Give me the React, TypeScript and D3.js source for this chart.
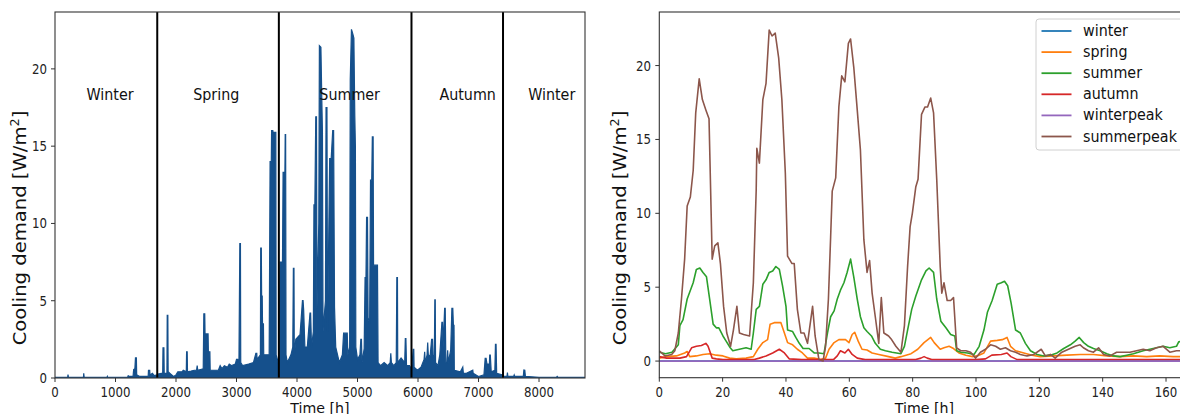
import React from 'react';
import * as d3 from 'd3';

// ---------- data: annual hourly cooling demand (read as envelope points) ----------
const annualSeries: [number, number][] = [
  [0, 0.05], [210, 0.05], [215, 0.22], [222, 0.05], [470, 0.05], [475, 0.3], [482, 0.05],
  [860, 0.05], [865, 0.1], [870, 0.05], [1200, 0.05], [1210, 0.15], [1225, 0.1], [1290, 0.1],
  [1300, 0.55], [1320, 0.6], [1330, 1.3], [1345, 1.3], [1350, 0.2], [1400, 0.1], [1540, 0.1],
  [1545, 0.5], [1565, 0.5], [1570, 0.2], [1610, 0.3], [1640, 0.15], [1690, 0.2],
  [1700, 0.25], [1760, 0.3], [1780, 0.3], [1785, 1.95], [1800, 1.95], [1805, 0.3], [1850, 0.3],
  [1855, 4.05], [1865, 4.05], [1870, 0.4], [1900, 0.3], [1960, 0.1], [2000, 0.2], [2030, 0.4],
  [2100, 0.4], [2120, 0.5], [2170, 0.4], [2175, 1.7], [2185, 1.7], [2190, 0.4], [2250, 0.45],
  [2300, 0.5], [2340, 0.5], [2350, 0.8], [2360, 0.5], [2450, 0.6], [2460, 4.15], [2475, 4.15],
  [2480, 2.85], [2530, 2.85], [2535, 1.7], [2560, 1.7], [2565, 0.5], [2650, 0.5], [2700, 0.5],
  [2730, 0.8], [2760, 0.6], [2800, 0.8], [2850, 0.7], [2880, 0.9], [2920, 0.8], [2980, 0.9],
  [3000, 1.2], [3020, 1.2], [3040, 0.9], [3055, 8.7], [3065, 8.7], [3070, 1.0], [3100, 0.8],
  [3200, 0.9], [3280, 1.0], [3320, 1.6], [3335, 1.6], [3340, 1.2], [3395, 1.5], [3400, 8.4],
  [3410, 8.4], [3415, 5.3], [3425, 5.3], [3430, 3.5], [3445, 3.5], [3450, 1.5], [3540, 1.5],
  [3555, 14.0], [3575, 14.0], [3580, 16.0], [3600, 16.0], [3605, 15.9], [3612, 15.9], [3615, 1.0],
  [3620, 15.9], [3650, 15.9], [3655, 1.5], [3690, 1.0],
  [3700, 0.8], [3720, 7.5], [3760, 7.5], [3770, 13.3], [3800, 13.3], [3805, 15.75], [3812, 15.75],
  [3818, 1.5], [3840, 1.0], [3900, 1.5], [3930, 2.0], [3940, 7.1], [3950, 7.1], [3955, 1.4],
  [3980, 2.5], [4050, 2.8], [4090, 5.0], [4100, 5.0], [4110, 4.4], [4130, 2.0], [4170, 2.0],
  [4215, 4.2], [4225, 4.2], [4240, 2.0], [4270, 3.0], [4280, 11.2], [4295, 11.2], [4310, 16.9],
  [4322, 16.9], [4330, 4.5], [4360, 10.0], [4370, 21.5], [4395, 21.4], [4410, 18.0], [4420, 16.0],
  [4430, 3.0], [4470, 5.0], [4480, 17.5], [4495, 17.5], [4505, 3.0], [4540, 14.2], [4565, 14.2],
  [4590, 16.0], [4605, 16.0], [4620, 4.6], [4640, 2.0], [4700, 1.0], [4750, 1.5], [4770, 2.9],
  [4800, 2.9], [4830, 2.9], [4840, 1.5], [4870, 2.0], [4880, 19.3], [4900, 22.56], [4920, 22.3],
  [4940, 22.0], [4955, 17.0], [4965, 15.0], [4972, 2.0], [5000, 1.2], [5040, 1.5], [5055, 2.5],
  [5065, 2.5], [5075, 1.0], [5110, 1.9], [5125, 6.5], [5140, 6.5], [5150, 10.4], [5165, 10.4],
  [5175, 3.9], [5200, 3.5], [5215, 12.8], [5235, 12.8], [5245, 15.6], [5258, 15.6], [5265, 7.3],
  [5330, 7.3], [5340, 1.0], [5380, 0.8], [5440, 1.0], [5500, 0.8], [5540, 1.0], [5550, 1.6],
  [5560, 1.0], [5600, 0.8], [5640, 1.0], [5650, 6.5], [5660, 6.5], [5665, 1.0], [5720, 1.3],
  [5780, 1.0], [5790, 2.55], [5800, 2.55], [5810, 0.8], [5860, 0.8], [5890, 0.6],
  [5895, 0.5], [5920, 1.85], [5930, 1.85], [5935, 0.7], [5990, 0.5], [6050, 0.7], [6100, 1.2],
  [6110, 1.7], [6120, 1.0], [6150, 1.5], [6160, 2.3], [6170, 1.5], [6200, 1.4], [6225, 2.5],
  [6240, 2.5], [6250, 1.2], [6270, 1.5], [6278, 5.05], [6285, 5.05], [6290, 1.0], [6330, 0.8],
  [6360, 1.5], [6395, 3.6], [6405, 3.6], [6415, 2.0], [6440, 4.5], [6450, 4.5], [6460, 1.0],
  [6480, 1.0], [6490, 1.8], [6500, 1.0], [6540, 1.8], [6560, 4.5], [6575, 4.5], [6585, 3.4],
  [6595, 3.4], [6600, 0.5], [6700, 0.4], [6740, 0.7], [6750, 0.3], [6800, 0.3], [6905, 0.5],
  [6912, 0.3], [7000, 0.1], [7090, 0.2], [7110, 1.27], [7125, 1.27], [7140, 0.9], [7180, 0.9],
  [7185, 1.48], [7195, 1.48], [7210, 0.4], [7270, 0.5], [7280, 2.18], [7290, 2.18], [7300, 0.3],
  [7400, 0.2],
  [7410, 0.1], [7470, 0.1], [7478, 0.35], [7485, 0.1], [7580, 0.1], [7590, 0.2], [7600, 0.1],
  [7740, 0.1], [7750, 0.52], [7765, 0.5], [7775, 0.1], [8000, 0.05], [8290, 0.05], [8300, 0.1],
  [8310, 0.05], [8759, 0.05],
];

const seasonBounds = [1690, 3700, 5892, 7405];
const seasonNames = ['Winter', 'Spring', 'Summer', 'Autumn', 'Winter'];
const seasonLabelHours = [910, 2665, 4870, 6820, 8210];
const seasonLabelValue = 18.3;

const annualXTicks = [0, 1000, 2000, 3000, 4000, 5000, 6000, 7000, 8000];
const demandTicks = [0, 5, 10, 15, 20];
const weekXTicks = [0, 20, 40, 60, 80, 100, 120, 140, 160];

// ---------- data: typical week per season ----------
const winterWeek: [number, number][] = [[0, 0], [167, 0]];
const winterpeakWeek: [number, number][] = [[0, 0], [167, 0]];

const springWeek: [number, number][] = [
  [0, 0.2], [2.3, 0.3], [5.4, 0.35], [8, 0.55], [8.8, 0.65], [9.6, 0.3], [11.7, 0.35], [13.8, 0.45],
  [15.9, 0.5], [18, 0.4], [20.1, 0.35], [22.2, 0.2], [24.3, 0.15], [27.4, 0.2], [29.7, 0.3],
  [31.1, 0.8], [32.7, 1.25], [34.2, 1.45], [35, 2.5], [36.3, 2.6], [38.4, 2.6], [39.5, 1.9],
  [40.5, 1.25], [42.1, 1.1], [43.6, 0.8], [45.2, 0.55], [46.8, 0.2], [48.9, 0.2], [51, 0.1],
  [52.5, 0.2], [53.6, 0.8], [55.2, 1.25], [56.7, 1.45], [58.8, 1.45], [59.9, 1.25], [60.9, 1.8],
  [61.7, 1.95], [62.8, 1.35], [64, 0.8], [65.6, 0.75], [67.2, 0.55], [69.3, 0.45], [72.4, 0.3],
  [74.5, 0.2], [76.3, 0.3], [79.5, 0.5], [81.6, 0.8], [83.6, 1.25], [85.7, 1.6], [86.8, 1.25],
  [88.7, 0.8], [89.9, 0.9], [91.5, 1.0], [92.9, 0.85], [94.6, 0.55], [96.8, 0.4], [98.9, 0.3],
  [100.4, 0.35], [102.5, 0.55], [104.6, 1.35], [106.7, 1.4], [108.3, 1.45], [109.8, 1.6],
  [110.9, 1.0], [112.5, 0.7], [115.1, 0.55], [117.7, 0.4], [120.3, 0.3], [124.5, 0.35],
  [128.7, 0.4], [132.9, 0.45], [137.1, 0.45], [141.3, 0.35], [145.5, 0.3], [149.7, 0.35],
  [153.9, 0.3], [158, 0.35], [162.2, 0.3], [167, 0.3],
];

const summerWeek: [number, number][] = [
  [0, 0.6], [2, 0.5], [4, 0.6], [6, 1.1], [6.5, 2.4], [7.5, 2.8], [8.8, 4.2], [10.7, 5.3],
  [11.7, 6.2], [12.8, 6.3], [13.8, 6.0], [14.9, 5.7], [15.9, 4.2], [17, 2.5], [18, 2.25],
  [18.8, 2.25], [20.1, 1.7], [21.1, 1.35], [22.4, 0.9], [23.2, 0.7], [25.3, 0.8], [27.4, 0.9],
  [29, 0.8], [29.7, 1.9], [30.6, 3.5], [31.6, 3.7], [32.7, 5.2], [33.7, 5.5], [34.7, 6.0],
  [35.8, 6.1], [36.8, 6.4], [37.9, 6.2], [38.9, 5.1], [40, 3.7], [40.5, 2.1], [42.1, 2.0],
  [43.1, 1.6], [44.2, 1.2], [45.4, 0.85], [47.3, 0.85], [48.9, 0.55], [50.4, 0.55], [52, 0.5],
  [53.1, 1.9], [54.1, 3.0], [55.2, 3.4], [56.2, 4.2], [57.2, 4.8], [58.3, 5.3], [59.3, 6.0],
  [60.4, 6.9], [61.4, 5.7], [62.5, 4.2], [63.5, 3.0], [64.6, 2.25], [65.6, 2.0], [67, 1.7],
  [68.2, 1.2], [69.8, 0.8], [71.4, 0.7], [73.5, 0.6], [76.3, 0.5], [77.4, 1.0], [78.4, 2.1],
  [79.7, 3.5], [81, 4.4], [82.8, 5.5], [84.2, 6.1], [85.2, 6.3], [86.6, 6.0], [87.6, 4.2],
  [88.9, 2.7], [90.5, 2.25], [92, 1.8], [93.3, 1.7], [93.9, 0.7], [95.2, 0.6], [97.3, 0.55],
  [99.4, 0.45], [101, 1.0], [102.5, 2.1], [103.6, 3.3], [105.1, 4.1], [106.7, 5.2], [108, 5.3],
  [109, 5.4], [110, 5.1], [111.1, 3.9], [112.5, 2.1], [114, 1.9], [115.6, 1.2], [117.2, 0.7],
  [119.3, 0.45], [121.4, 0.35], [123.5, 0.4], [125.6, 0.55], [127.7, 0.85], [129.8, 1.1],
  [131.3, 1.35], [132.6, 1.6], [134, 1.25], [135.5, 1.0], [137.1, 0.85], [139.2, 0.7],
  [141.3, 0.5], [143.4, 0.35], [145.5, 0.3], [147.6, 0.4], [149.7, 0.5], [152.8, 0.7],
  [154.9, 0.8], [157, 0.9], [159.1, 1.0], [161.2, 0.9], [163.3, 1.0], [164, 1.3], [167, 1.4],
];

const autumnWeek: [number, number][] = [
  [0, 0.3], [2.3, 0.2], [6.5, 0.2], [8.6, 0.3], [10.2, 0.9], [11.7, 1.0], [13.3, 1.05],
  [14.7, 1.2], [15.4, 1.0], [16.7, 0.2], [18, 0.15], [20.1, 0.1], [25, 0.1], [30, 0.1],
  [31.6, 0.2], [33.7, 0.35], [35.8, 0.55], [37.9, 0.8], [39.5, 0.55], [41, 0.15], [45, 0.1],
  [50, 0.1], [55, 0.1], [56.2, 0.35], [57.2, 0.7], [58.6, 0.55], [59.7, 0.8], [60.9, 0.45],
  [62.5, 0.2], [65, 0.1], [75, 0.1], [81, 0.1], [82.6, 0.2], [83.6, 0.3], [84.6, 0.2],
  [86, 0.1], [100, 0.1], [103, 0.15], [105, 0.4], [108, 0.45], [109.8, 0.55], [111, 0.3],
  [113, 0.1], [130, 0.1], [150, 0.1], [167, 0.1],
];

const summerpeakWeek: [number, number][] = [
  [0, 0.7], [1.8, 0.35], [3.9, 0.45], [4.9, 0.7], [6, 1.9], [7, 4.2], [8, 6.9], [8.8, 10.5],
  [9.8, 11.1], [10.7, 12.9], [11.5, 16.8], [12.6, 19.1], [13.6, 17.7], [14.7, 17.0], [15.7, 16.4],
  [16.7, 6.9], [17.5, 7.8], [18.5, 8.0], [19.3, 6.6], [20.3, 3.7], [21.3, 1.9], [22.5, 1.0],
  [23.4, 2.1], [24.5, 3.7], [25.3, 1.9], [26.6, 1.8], [28.5, 1.7], [29.7, 5.3], [30.6, 11.6],
  [30.8, 14.4], [31.6, 13.4], [32.7, 17.7], [33.7, 18.8], [34.7, 22.4], [35.6, 22.0],
  [36.6, 22.2], [37.7, 20.5], [38.7, 17.7], [39.8, 12.7], [40.5, 7.1], [41.9, 6.6], [42.6, 6.6],
  [43.6, 3.5], [44.7, 1.9], [45.7, 1.9], [46.8, 1.2], [48.4, 3.7], [49.2, 1.7], [50.4, 0.1],
  [51.7, 0], [52.5, 1.0], [53.4, 4.2], [54.1, 8.4], [54.6, 11.5], [55.7, 12.4], [56.7, 17.2],
  [57.6, 19.3], [58.6, 18.9], [59.7, 21.5], [60.4, 21.8], [61.4, 19.9], [62.5, 17.0],
  [63.5, 14.3], [64.6, 8.2], [65.6, 6.0], [66.4, 6.8], [67.2, 4.6], [68.2, 3.0], [69.3, 1.2],
  [70.1, 4.3], [70.9, 1.9], [72.4, 1.7], [73.2, 1.5], [74.7, 1.0], [76.3, 0.6], [77.4, 2.4],
  [78.4, 6.4], [79.2, 9.1], [79.9, 10.0], [81, 11.8], [81.7, 12.3], [82.8, 16.7], [83.9, 17.2],
  [84.7, 17.2], [85.7, 17.8], [86.6, 16.8], [87.6, 12.3], [88.7, 6.4], [89.2, 4.6], [89.9, 5.3],
  [90.9, 4.1], [92, 4.1], [92.9, 4.3], [93.9, 0.9], [95.2, 0.7], [96.8, 0.7], [98.3, 0.6],
  [99.9, 0.2], [101.4, 0.6], [103, 0.8], [104.6, 1.1], [106.2, 1.0], [107.7, 0.8], [109.3, 0.9],
  [110.9, 0.7], [112.5, 0.6], [114, 0.45], [116.1, 0.35], [118.3, 0.45], [120.6, 0.8],
  [121.9, 0.35], [123.5, 0.45], [125, 0.2], [127.1, 0.6], [129.2, 0.8], [131.3, 1.0],
  [132.9, 1.1], [133.9, 0.9], [135.5, 0.7], [137.1, 0.6], [138.7, 0.9], [140.3, 0.45],
  [142.3, 0.35], [144.4, 0.6], [146.5, 0.6], [148.6, 0.6], [150.7, 0.7], [152.8, 0.8],
  [154.9, 0.7], [157, 0.9], [159.1, 1.0], [161.2, 0.6], [163.3, 0.7], [167, 0.7],
];

const seriesNames = ['winter', 'spring', 'summer', 'autumn', 'winterpeak', 'summerpeak'];
const seriesColors = ['#1f77b4', '#ff7f0e', '#2ca02c', '#d62728', '#9467bd', '#8c564b'];
const seriesData = [winterWeek, springWeek, summerWeek, autumnWeek, winterpeakWeek, summerpeakWeek];

const FONT = '"DejaVu Sans", sans-serif';
const AXIS = '#333';
const SY = 1.12; // slight vertical stretch of the reference's text

function HText(props: { x: number; y: number; size: number; anchor?: string; children: React.ReactNode; fill?: string; sy?: number }) {
  const { x, y, size, anchor = 'start', children, fill = '#111', sy = SY } = props;
  return (
    <text transform={`translate(${x},${y}) scale(1,${sy})`} fontSize={size}
      textAnchor={anchor as any} fill={fill}>{children}</text>
  );
}

export default function App() {
  // left panel
  const lx = d3.scaleLinear().domain([0, 8760]).range([55, 585]);
  const ly = d3.scaleLinear().domain([0, 23.68]).range([378, 12]);
  // right panel
  const rx = d3.scaleLinear().domain([0, 167]).range([659.3, 659.3 + 167 * 3.167]);
  const ry = d3.scaleLinear().domain([-1.125, 23.625]).range([377.7, 12]);

  const annualArea = d3.area<[number, number]>()
    .x(d => lx(d[0])).y0(ly(0)).y1(d => ly(d[1]));
  const annualLine = d3.line<[number, number]>()
    .x(d => lx(d[0])).y(d => ly(d[1]));
  const weekLine = d3.line<[number, number]>()
    .x(d => rx(d[0])).y(d => ry(d[1]));

  const tickFont = 11.8;

  const yLabel = (x: number) => (
    <text transform={`translate(${x},228) rotate(-90) scale(1.12,1)`} fontSize={17.5}
      textAnchor="middle" fill="#111">
      Cooling demand [W/m<tspan dy={-6.5} fontSize={11.5}>2</tspan><tspan dy={6.5}>]</tspan>
    </text>
  );

  return (
    <svg width={1180} height={414} style={{ position: 'absolute', left: 0, top: 0, background: '#fff' }}
      fontFamily={FONT}>
      <rect x={0} y={0} width={1180} height={414} fill="#fff" />
      <defs>
        <clipPath id="lclip"><rect x={55} y={12} width={530} height={366} /></clipPath>
        <clipPath id="rclip"><rect x={659.3} y={12} width={540} height={365.7} /></clipPath>
      </defs>

      {/* ---------- Left panel ---------- */}
      <g clipPath="url(#lclip)">
        <path d={annualArea(annualSeries) || ''} fill="#15508c" />
        <path d={annualLine(annualSeries) || ''} fill="none" stroke="#15508c" strokeWidth={1.2} />
        {seasonBounds.map((b, i) => (
          <line key={i} x1={lx(b)} x2={lx(b)} y1={12} y2={378} stroke="#000" strokeWidth={2} />
        ))}
      </g>
      {seasonNames.map((s, i) => (
        <HText key={i} x={lx(seasonLabelHours[i])} y={ly(seasonLabelValue) + 5} size={14.3}
          anchor="middle">{s}</HText>
      ))}
      <rect x={55} y={12} width={530} height={366} fill="none" stroke={AXIS} strokeWidth={1.1} />
      {annualXTicks.map(t => (
        <g key={t}>
          <line x1={lx(t)} x2={lx(t)} y1={378} y2={382} stroke={AXIS} />
          <HText x={lx(t)} y={396.5} size={tickFont} anchor="middle" fill="#222">{t}</HText>
        </g>
      ))}
      {demandTicks.map(t => (
        <g key={t}>
          <line x1={51} x2={55} y1={ly(t)} y2={ly(t)} stroke={AXIS} />
          <HText x={47} y={ly(t) + 5} size={tickFont} anchor="end" fill="#222">{t}</HText>
        </g>
      ))}
      <HText x={320} y={412.5} size={14.2} anchor="middle" sy={1}>Time [h]</HText>
      {yLabel(25.5)}

      {/* ---------- Right panel ---------- */}
      <g clipPath="url(#rclip)">
        {seriesData.map((s, i) => (
          <path key={i} d={weekLine(s) || ''} fill="none" stroke={seriesColors[i]} strokeWidth={1.6}
            strokeLinejoin="round" />
        ))}
      </g>
      <rect x={659.3} y={12} width={540} height={365.7} fill="none" stroke={AXIS} strokeWidth={1.1} />
      {weekXTicks.map(t => (
        <g key={t}>
          <line x1={rx(t)} x2={rx(t)} y1={377.7} y2={381.7} stroke={AXIS} />
          <HText x={rx(t)} y={396.5} size={tickFont} anchor="middle" fill="#222">{t}</HText>
        </g>
      ))}
      {demandTicks.map(t => (
        <g key={t}>
          <line x1={655.3} x2={659.3} y1={ry(t)} y2={ry(t)} stroke={AXIS} />
          <HText x={651} y={ry(t) + 5} size={tickFont} anchor="end" fill="#222">{t}</HText>
        </g>
      ))}
      <HText x={924.5} y={412.5} size={14.2} anchor="middle" sy={1}>Time [h]</HText>
      {yLabel(625.5)}

      {/* legend */}
      <rect x={1036} y={19} width={160} height={131} rx={3} fill="#fff" fillOpacity={0.85}
        stroke="#d0d0d0" strokeWidth={1} />
      {seriesNames.map((n, i) => {
        const y = 31 + i * 21.1;
        return (
          <g key={n}>
            <line x1={1041.5} x2={1071.5} y1={y} y2={y} stroke={seriesColors[i]} strokeWidth={1.8} />
            <HText x={1083} y={y + 5} size={14.3}>{n}</HText>
          </g>
        );
      })}
    </svg>
  );
}
